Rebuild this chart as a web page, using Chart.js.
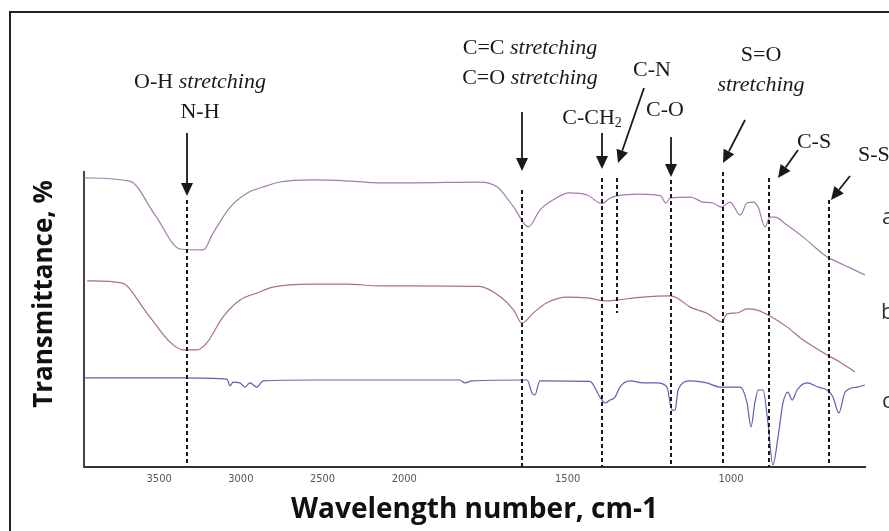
<!DOCTYPE html>
<html>
<head>
<meta charset="utf-8">
<script src="https://cdn.jsdelivr.net/npm/chart.js@4.4.1/dist/chart.umd.min.js"></script>
<style>
  html, body { margin: 0; padding: 0; background: #fff; }
  canvas { display: block; }
</style>
</head>
<body>
<canvas id="ftir" width="889" height="531"></canvas>
<script>
// FTIR spectra a, b, c -- wavenumber (cm-1) and transmittance (arbitrary %, offset per trace)
var waveA  = [3960, 3680, 3525, 3370, 3230, 3170, 3065, 2960, 2865, 2760, 2560, 2330, 2150, 1975, 1770, 1715, 1665, 1620, 1585, 1545, 1495, 1440, 1395, 1370, 1350, 1280, 1215, 1200, 1185, 1125, 1085, 1055, 1030, 1003, 972, 951, 933, 917, 896, 881, 865, 829, 780, 706, 688, 636, 590];
var transA = [98.0, 96.9, 85.4, 73.9, 73.6, 79.3, 88.1, 92.9, 94.9, 96.6, 97.3, 96.9, 96.3, 96.3, 96.6, 94.9, 88.1, 81.4, 87.1, 90.5, 92.9, 92.2, 89.3, 91.2, 91.9, 92.5, 91.9, 89.5, 91.2, 91.5, 89.8, 89.5, 88.1, 89.8, 85.4, 89.5, 89.8, 88.1, 81.4, 84.7, 84.7, 82.0, 78.0, 71.2, 70.2, 67.5, 65.1];

var waveB  = [3940, 3730, 3575, 3435, 3355, 3270, 3210, 3110, 3005, 2900, 2805, 2560, 2350, 2150, 1975, 1770, 1705, 1665, 1640, 1605, 1565, 1500, 1440, 1380, 1350, 1270, 1187, 1165, 1125, 1075, 1028, 1012, 982, 951, 920, 881, 829, 780, 706, 667, 621];
var transB = [63.1, 62.4, 52.2, 42.4, 39.7, 39.7, 42.0, 50.8, 56.6, 59.0, 61.0, 62.0, 62.0, 61.4, 61.4, 61.2, 57.6, 53.2, 48.8, 52.2, 55.6, 57.6, 57.3, 56.3, 56.6, 57.6, 58.0, 57.3, 54.2, 52.2, 49.2, 51.9, 52.2, 53.6, 53.2, 51.2, 47.5, 43.1, 38.0, 35.6, 32.2];

var waveC  = [3960, 3370, 3085, 3066, 3048, 3006, 2975, 2944, 2902, 2864, 2560, 1975, 1830, 1814, 1793, 1637, 1624, 1609, 1600, 1585, 1432, 1401, 1386, 1370, 1355, 1340, 1309, 1269, 1227, 1196, 1181, 1171, 1162, 1125, 1074, 1034, 972, 951, 939, 927, 917, 902, 887, 872, 856, 841, 826, 813, 798, 768, 734, 706, 688, 670, 651, 614, 590];
var transC = [30.2, 30.2, 29.8, 27.5, 28.8, 28.5, 27.1, 28.5, 27.1, 29.2, 29.5, 29.5, 29.5, 28.5, 29.2, 29.5, 29.5, 25.1, 24.4, 29.2, 29.0, 23.7, 21.7, 22.7, 23.7, 27.1, 29.2, 28.5, 28.5, 27.1, 19.3, 19.3, 26.1, 29.2, 28.5, 27.1, 27.1, 21.7, 13.6, 21.7, 26.1, 26.1, 14.9, 0.7, 10.2, 21.7, 25.4, 22.7, 26.1, 28.5, 27.1, 26.1, 23.7, 18.3, 25.4, 27.1, 27.8];

var tickValues  = [3500, 3000, 2500, 2000, 1500, 1000];
var markerWaves = [3330, 1640, 1395, 1350, 1185, 1025, 885, 700];

// -------------------------------------------------------------------------------------------------------
// x axis of the spectrometer: 2x expanded below 2000 cm-1
class FtirScale extends Chart.LinearScale {
    fold(v) { return v > 2000 ? 2000 + (v - 2000) / 2 : v; }
    getPixelForValue(value) {
        var a = this.fold(this.min), b = this.fold(this.max);
        return this.getPixelForDecimal((this.fold(value) - a) / (b - a));
    }
    getValueForPixel(pixel) {
        var a = this.fold(this.min), b = this.fold(this.max);
        var t = a + this.getDecimalForPixel(pixel) * (b - a);
        return t > 2000 ? 2000 + (t - 2000) * 2 : t;
    }
}
FtirScale.id = 'ftir';
FtirScale.defaults = Chart.LinearScale.defaults;
Chart.register(FtirScale);

function zip(xs, ys) {
    return xs.map(function (x, i) { return { x: x, y: ys[i] }; });
}

var SERIF = '"Liberation Serif", "DejaVu Serif", serif';

// text pieces: [text, style]  style: '' normal, 'i' italic, 's' subscript
var labels = [
    { cx: 200, cy: 82,  parts: [['O-H ', ''], ['stretching', 'i']] },
    { cx: 200, cy: 112, parts: [['N-H', '']] },
    { cx: 530, cy: 48,  parts: [['C=C ', ''], ['stretching', 'i']] },
    { cx: 530, cy: 78,  parts: [['C=O ', ''], ['stretching', 'i']] },
    { cx: 652, cy: 70,  parts: [['C-N', '']] },
    { cx: 592, cy: 118, parts: [['C-CH', ''], ['2', 's']] },
    { cx: 665, cy: 110, parts: [['C-O', '']] },
    { cx: 761, cy: 55,  parts: [['S=O', '']] },
    { cx: 761, cy: 85,  parts: [['stretching', 'i']] },
    { cx: 814, cy: 142, parts: [['C-S', '']] },
    { lx: 858, cy: 155, parts: [['S-S', '']] }
];

// arrows per marker: tail (dx0,y0) -> tip (dx1,y1), dx relative to the marker line
var arrows = [
    { dx0: 0,  y0: 133, dx1: 0, y1: 196 },
    { dx0: 0,  y0: 112, dx1: 0, y1: 171 },
    { dx0: 0,  y0: 133, dx1: 0, y1: 169 },
    { dx0: 27, y0: 88,  dx1: 1, y1: 163 },
    { dx0: 0,  y0: 137, dx1: 0, y1: 177 },
    { dx0: 22, y0: 120, dx1: 0, y1: 163 },
    { dx0: 29, y0: 150, dx1: 9, y1: 178 },
    { dx0: 21, y0: 176, dx1: 2, y1: 200 }
];
var markerTop    = [200, 190, 178, 178, 180, 172, 178, 200];
var markerBottom = [467, 467, 467, 313, 467, 467, 467, 467];

function fontFor(style) {
    if (style === 'i') return 'italic 22px ' + SERIF;
    if (style === 's') return '14px ' + SERIF;
    return '22px ' + SERIF;
}

function drawParts(ctx, item) {
    var total = 0;
    item.parts.forEach(function (p) { ctx.font = fontFor(p[1]); total += ctx.measureText(p[0]).width; });
    var x = item.lx !== undefined ? item.lx : item.cx - total / 2;
    item.parts.forEach(function (p) {
        ctx.font = fontFor(p[1]);
        ctx.fillText(p[0], x, item.cy + (p[1] === 's' ? 5 : 0));
        x += ctx.measureText(p[0]).width;
    });
}

function drawArrow(ctx, x0, y0, x1, y1) {
    var ang = Math.atan2(y1 - y0, x1 - x0), len = 13, half = 6;
    var bx = x1 - len * Math.cos(ang), by = y1 - len * Math.sin(ang);
    ctx.beginPath();
    ctx.moveTo(x0, y0);
    ctx.lineTo(bx, by);
    ctx.stroke();
    ctx.beginPath();
    ctx.moveTo(x1, y1);
    ctx.lineTo(bx + half * Math.sin(ang), by - half * Math.cos(ang));
    ctx.lineTo(bx - half * Math.sin(ang), by + half * Math.cos(ang));
    ctx.closePath();
    ctx.fill();
}

var decorPlugin = {
    id: 'decor',
    beforeDraw: function (chart) {
        var ctx = chart.ctx;
        ctx.save();
        ctx.fillStyle = '#ffffff';
        ctx.fillRect(0, 0, chart.width, chart.height);
        ctx.strokeStyle = '#222';
        ctx.lineWidth = 2;
        ctx.strokeRect(10, 12, chart.width + 20, chart.height + 20);

        // y title, sits a little above the middle of the axis
        ctx.translate(45, 294);
        ctx.rotate(-Math.PI / 2);
        ctx.fillStyle = '#111';
        ctx.font = 'bold 26px "Open Sans", sans-serif';
        ctx.textAlign = 'center';
        ctx.textBaseline = 'middle';
        ctx.fillText('Transmittance, %', 0, 0);
        ctx.restore();
    },
    afterDatasetsDraw: function (chart) {
        var ctx = chart.ctx, xs = chart.scales.x;
        ctx.save();
        ctx.strokeStyle = '#1a1a1a';
        ctx.fillStyle = '#1a1a1a';

        // dashed marker lines
        ctx.lineWidth = 2;
        ctx.setLineDash([4, 3]);
        markerWaves.forEach(function (w, i) {
            var px = Math.round(xs.getPixelForValue(w));
            ctx.beginPath();
            ctx.moveTo(px, markerTop[i]);
            ctx.lineTo(px, markerBottom[i]);
            ctx.stroke();
        });
        ctx.setLineDash([]);

        // arrows
        ctx.lineWidth = 1.8;
        markerWaves.forEach(function (w, i) {
            var px = Math.round(xs.getPixelForValue(w)), a = arrows[i];
            drawArrow(ctx, px + a.dx0, a.y0, px + a.dx1, a.y1);
        });

        // band assignments
        ctx.textBaseline = 'middle';
        ctx.textAlign = 'left';
        labels.forEach(function (item) { drawParts(ctx, item); });

        // trace letters, cut by the right edge
        ctx.fillStyle = '#333';
        ctx.font = '22px "Open Sans", sans-serif';
        ctx.fillText('a', 882, 218);
        ctx.fillText('b', 881, 313);
        ctx.fillText('c', 882, 402);
        ctx.restore();
    }
};

var canvas = document.getElementById('ftir');
new Chart(canvas.getContext('2d'), {
    type: 'line',
    data: {
        datasets: [
            { label: 'a', data: zip(waveA, transA), borderColor: '#a47bae' },
            { label: 'b', data: zip(waveB, transB), borderColor: '#ab6f7f' },
            { label: 'c', data: zip(waveC, transC), borderColor: '#5c60b2' }
        ]
    },
    options: {
        responsive: false,
        animation: false,
        devicePixelRatio: 1,
        layout: { padding: { left: 84, right: 24, top: 172, bottom: 4.2 } },
        elements: {
            point: { radius: 0 },
            line: { borderWidth: 1.2, cubicInterpolationMode: 'monotone', fill: false }
        },
        plugins: { legend: { display: false }, tooltip: { enabled: false } },
        scales: {
            x: {
                type: 'ftir',
                reverse: true,
                min: 590,
                max: 3960,
                afterBuildTicks: function (scale) {
                    scale.ticks = tickValues.map(function (v) { return { value: v }; });
                },
                grid: { display: false, drawTicks: false },
                border: { display: true, color: '#333', width: 2 },
                ticks: {
                    color: '#555',
                    font: { family: '"Liberation Sans Narrow", "DejaVu Sans Condensed", sans-serif', size: 11 },
                    padding: 6,
                    maxRotation: 0,
                    autoSkip: false,
                    callback: function (v) { return String(v); }
                },
                title: {
                    display: true,
                    text: 'Wavelength number, cm-1',
                    color: '#111',
                    font: { family: '"Open Sans", sans-serif', size: 28, weight: 'bold' },
                    padding: { top: 1, bottom: 0 }
                }
            },
            y: {
                min: 0,
                max: 100,
                grid: { display: false, drawTicks: false },
                border: { display: true, color: '#444', width: 2 },
                ticks: { display: false },
                title: { display: false }
            }
        }
    },
    plugins: [decorPlugin]
});
</script>
</body>
</html>
